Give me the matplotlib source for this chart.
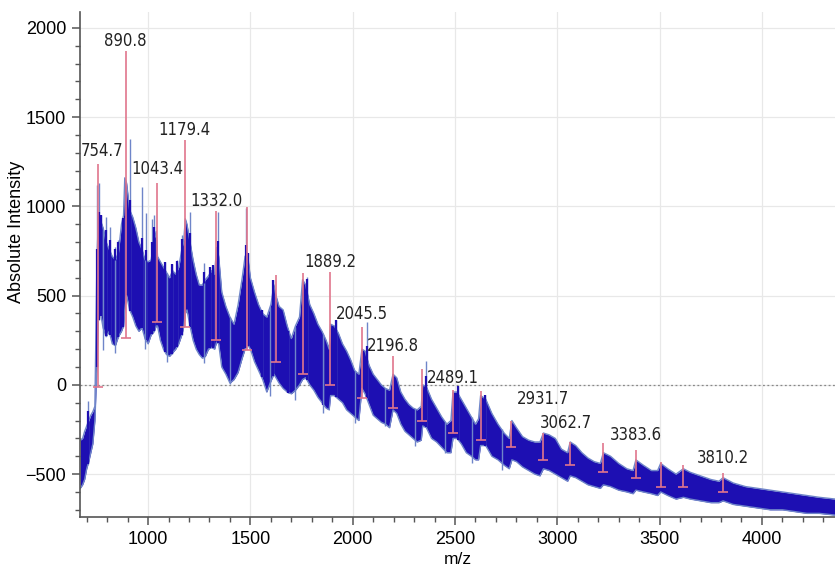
import numpy as np
import matplotlib.pyplot as plt
from matplotlib.ticker import MultipleLocator

# spectrum envelope (m/z, upper edge, lower edge of the trace)
mz = [668, 680, 690, 700, 710, 720, 730, 740, 745, 750, 756, 765, 780, 795, 810, 825, 840, 855, 870, 880,
      886, 895, 910, 925, 940, 955, 970, 985, 1000, 1015, 1030, 1040, 1046, 1060, 1075, 1090, 1105, 1120, 1135, 1150,
      1165, 1175, 1182, 1190, 1205, 1220, 1235, 1250, 1265, 1280, 1295, 1310, 1325, 1335, 1345, 1360, 1380, 1400, 1420, 1440,
      1460, 1474, 1485, 1500, 1520, 1540, 1560, 1580, 1600, 1615, 1625, 1640, 1660, 1680, 1700, 1720, 1740, 1755, 1770, 1790,
      1810, 1830, 1850, 1870, 1885, 1892, 1910, 1930, 1950, 1970, 1990, 2010, 2030, 2045, 2060, 2080, 2100, 2120, 2140, 2160,
      2180, 2197, 2215, 2235, 2255, 2275, 2295, 2315, 2335, 2342, 2360, 2385, 2410, 2435, 2460, 2480, 2490, 2510, 2530, 2555,
      2580, 2600, 2615, 2625, 2650, 2680, 2710, 2740, 2765, 2778, 2800, 2830, 2860, 2890, 2915, 2932, 2960, 2990, 3020, 3050,
      3063, 3090, 3120, 3150, 3180, 3210, 3225, 3260, 3300, 3340, 3370, 3384, 3420, 3460, 3490, 3505, 3540, 3580, 3616, 3650,
      3700, 3750, 3790, 3810, 3860, 3920, 3980, 4040, 4100, 4160, 4220, 4280, 4360]
upper = [-310, -300, -260, -230, -200, -170, -150, -120, 300, 700, 900, 930, 880, 800, 760, 720, 700, 740, 900, 950,
         1160, 1130, 980, 940, 880, 800, 760, 700, 690, 700, 820, 860, 720, 690, 660, 630, 600, 640, 620, 660,
         760, 820, 930, 900, 800, 700, 620, 560, 560, 590, 610, 640, 620, 770, 720, 520, 440, 380, 340, 450,
         600, 720, 740, 600, 520, 450, 400, 380, 450, 560, 500, 440, 420, 330, 260, 330, 380, 590, 560, 450,
         400, 340, 300, 250, 200, 340, 330, 290, 230, 190, 140, 80, 60, 200, 190, 110, 60, 30, 0, -20,
         -30, 60, 40, -40, -80, -110, -130, -140, -120, 0, -10, -80, -130, -180, -220, -200, -40, -40, -80, -130,
         -180, -220, -190, -60, -80, -160, -220, -270, -300, -200, -240, -290, -310, -320, -320, -270, -280, -300, -360, -380,
         -320, -340, -380, -410, -430, -440, -380, -400, -440, -470, -480, -420, -450, -480, -480, -440, -470, -500, -470, -490,
         -510, -530, -540, -520, -550, -570, -580, -590, -600, -610, -620, -630, -640]
lower = [-580, -560, -530, -470, -430, -380, -330, -200, -50, 100, 350, 420, 320, 270, 300, 230, 220, 270, 300, 330,
         420, 500, 420, 380, 330, 300, 320, 260, 230, 280, 300, 330, 330, 250, 200, 170, 160, 180, 200, 230,
         280, 330, 400, 420, 330, 250, 200, 170, 150, 160, 200, 210, 200, 240, 230, 100, 60, 10, 30, 70,
         150, 200, 230, 200, 130, 80, 30, -40, 20, 60, 40, 10, -20, -40, -50, -30, 0, 30, 40, 0,
         -30, -70, -100, -130, -140, -60, -60, -80, -100, -140, -160, -180, -200, -20, -50, -110, -170, -190, -210, -220,
         -240, -140, -160, -220, -260, -280, -300, -320, -310, -230, -240, -300, -320, -350, -380, -380, -300, -300, -330, -380,
         -400, -420, -420, -340, -340, -400, -420, -450, -470, -420, -430, -460, -480, -500, -510, -470, -480, -500, -520, -540,
         -510, -520, -540, -560, -570, -580, -560, -570, -590, -600, -610, -590, -600, -610, -620, -600, -620, -640, -630, -640,
         -650, -660, -660, -650, -670, -680, -690, -700, -700, -710, -720, -720, -730]

# thin spikes sticking out above the trace (m/z, top)
spike_mz = [707, 750, 758, 770, 794, 814, 839, 855, 879, 912, 969, 988, 1020, 1031, 1083, 1116, 1141, 1165,
            1206, 1271, 1303, 1319, 1340, 1477, 1490, 1555, 1612, 1686, 1775, 1857, 1917, 2068, 2357,
            2516, 2646]
spike_top = [-90, 1120, 1130, 950, 938, 887, 775, 812, 934, 1380, 1110, 962, 930, 950, 690, 680, 700, 840,
             970, 681, 663, 672, 970, 990, 737, 420, 588, 300, 607, 271, 364, 355, 131,
             -9, -56]
# and the ones dipping below it (m/z, bottom)
dip_mz = [782, 839, 986, 1091, 1271, 1401, 1596, 1718, 1857, 2011, 2158, 2305, 2451, 2581, 2728]
dip_bottom = [196, 177, 200, 130, 121, 5, -65, -84, -159, -215, -233, -345, -383, -440, -475]

# picked peaks: centroid, apex, baseline
peak_mz = [754.7, 890.8, 1043.4, 1179.4, 1332.0, 1481, 1624, 1757, 1889.2, 2045.5, 2196.8,
           2341, 2489.1, 2625, 2776, 2931.7, 3062.7, 3223, 3383.6, 3505, 3614, 3810.2]
peak_top = [1236, 1871, 1129, 1371, 972, 994, 618, 629, 635, 326, 163,
            90, -28, -34, -205, -270, -320, -325, -365, -430, -448, -493]
peak_base = [-10, 264, 354, 326, 253, 197, 129, 62, 0, -73, -129,
             -202, -270, -309, -350, -420, -450, -487, -521, -570, -571, -599]

# which peaks carry a label
labelled = [754.7, 890.8, 1043.4, 1179.4, 1332.0, 1889.2, 2045.5, 2196.8,
            2489.1, 2931.7, 3062.7, 3383.6, 3810.2]

dark = '#1d0fb2'
edge = '#6f85c9'
pink = '#e0768c'

fig = plt.figure(figsize=(8.35, 5.66), dpi=100)
ax = fig.add_axes([0.096, 0.087, 0.904, 0.892])

ax.fill_between(mz, lower, upper, color=dark, lw=0, zorder=2)
ax.plot(mz, upper, color=edge, lw=1.0, zorder=2)
ax.plot(mz, lower, color=edge, lw=1.0, zorder=2)
ax.vlines(spike_mz, np.interp(spike_mz, mz, lower), spike_top, color=edge, lw=1.0, zorder=2)
ax.vlines(spike_mz, np.interp(spike_mz, mz, lower), np.minimum(spike_top, np.interp(spike_mz, mz, upper) + 60),
          color=dark, lw=1.6, zorder=2)
ax.vlines(dip_mz, dip_bottom, np.interp(dip_mz, mz, upper), color=edge, lw=1.0, zorder=2)

# peak sticks with a little foot
ax.vlines(peak_mz, peak_base, peak_top, color=pink, lw=1.2, zorder=3)
ax.plot(peak_mz, peak_base, ls='none', marker='_', ms=7, mew=1.2, color=pink, zorder=3)

# offset (pixels) from apex to label centre
lift = {754.7: (4, 13), 1043.4: (0, 14), 2045.5: (0, 13), 2489.1: (0, 12), 2931.7: (0, 34),
        3062.7: (-4, 19), 3383.6: (0, 15), 3810.2: (0, 15)}
for m, t in zip(peak_mz, peak_top):
    if m not in labelled:
        continue
    txt = ax.annotate(f'{m:.1f}', (m, t), xytext=lift.get(m, (0, 10)), textcoords='offset pixels',
                      ha='center', va='center', fontsize=12, fontstretch='condensed',
                      family='DejaVu Sans', color='#222222', zorder=4, annotation_clip=False)
    txt.set_clip_path(ax.patch)

ax.axhline(0, color='#888888', lw=0.9, ls=(0, (1.5, 2)), zorder=1)

ax.set_xlim(668, 4357)
ax.set_ylim(-739, 2090)
ax.xaxis.set_major_locator(MultipleLocator(500))
ax.xaxis.set_minor_locator(MultipleLocator(100))
ax.yaxis.set_major_locator(MultipleLocator(500))
ax.yaxis.set_minor_locator(MultipleLocator(100))
ax.grid(True, which='major', color='#e8e8e8', lw=0.9, zorder=0)
ax.set_axisbelow(True)

for s in ['top', 'right']:
    ax.spines[s].set_visible(False)
for s in ['left', 'bottom']:
    ax.spines[s].set_color('#555555')
    ax.spines[s].set_linewidth(1.2)
ax.tick_params(which='major', length=6, width=1.1, color='#555555', labelsize=13, pad=4)
ax.tick_params(which='minor', length=3.5, width=1.0, color='#555555')
for lab in ax.get_xticklabels() + ax.get_yticklabels():
    lab.set_family('Liberation Sans')

ax.set_xlabel('m/z', family='Liberation Sans', fontsize=12.5, labelpad=3)
ax.set_ylabel('Absolute Intensity', family='Liberation Sans', fontsize=13)
ax.yaxis.set_label_coords(-0.073, 0.565)

fig.savefig('out.png', dpi=100)
